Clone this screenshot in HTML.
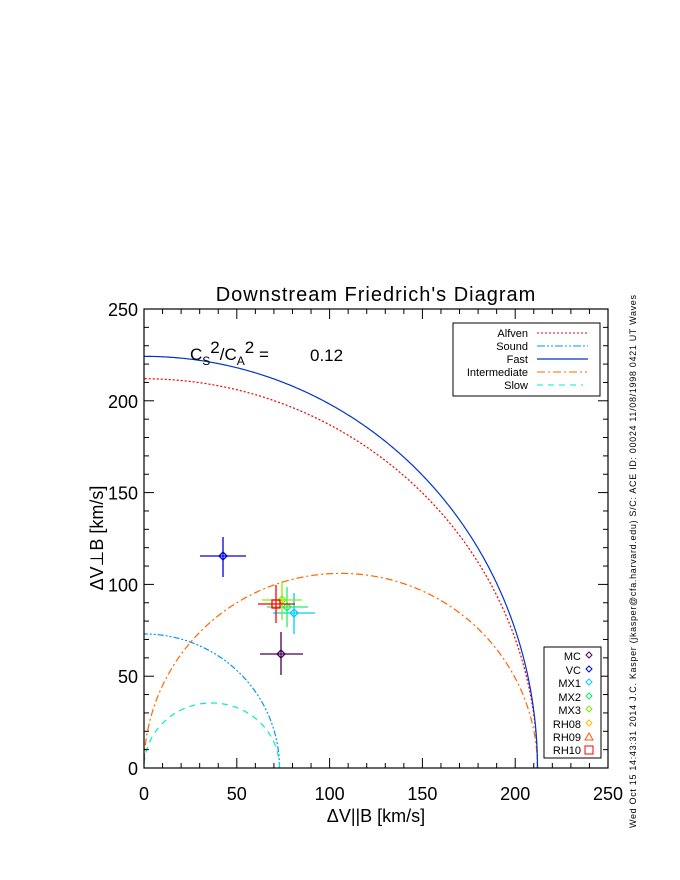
<!DOCTYPE html>
<html><head><meta charset="utf-8"><style>
html,body{margin:0;padding:0;background:#fff;}
svg{display:block;font-family:"Liberation Sans","DejaVu Sans",sans-serif;}
</style></head><body>
<svg id="s" width="680" height="880" viewBox="0 0 680 880" xmlns="http://www.w3.org/2000/svg">
<rect width="680" height="880" fill="#fff"/>
<text x="376" y="301" font-size="20" text-anchor="middle" letter-spacing="1">Downstream Friedrich's Diagram</text>
<g id="curves" fill="none" stroke-width="1.2"></g>
<rect x="144" y="309" width="464" height="459" fill="none" stroke="#000" stroke-width="1.2"/>
<g id="ticks" stroke="#000" stroke-width="1"></g>
<g id="labels" font-size="18"></g>
<text x="190" y="360" font-size="17">C<tspan font-size="12" dy="5">S</tspan><tspan dy="-12">2</tspan><tspan dy="7">/C</tspan><tspan font-size="12" dy="5">A</tspan><tspan dy="-12">2</tspan><tspan dy="7"> = </tspan></text>
<text x="310" y="361" font-size="17">0.12</text>
<text x="376" y="822" font-size="18" text-anchor="middle">ΔV||B [km/s]</text>
<text transform="translate(103,538) rotate(-90)" font-size="18" text-anchor="middle">ΔV⊥B [km/s]</text>
<text transform="translate(636,828) rotate(-90)" font-size="9" textLength="533" lengthAdjust="spacing">Wed Oct 15 14:43:31 2014   J.C. Kasper (jkasper@cfa.harvard.edu)   S/C: ACE ID: 00024 11/08/1998   0421 UT Waves</text>
<rect x="453" y="323" width="147" height="73" fill="#fff" stroke="#000"/>
<g font-size="11" text-anchor="end">
<text x="528" y="337">Alfven</text><text x="528" y="350">Sound</text><text x="528" y="363">Fast</text><text x="528" y="376">Intermediate</text><text x="528" y="389">Slow</text>
</g>
<line x1="537" y1="333" x2="587" y2="333" stroke="#e00" stroke-dasharray="2,2"/>
<line x1="537" y1="346" x2="588" y2="346" stroke="#09e" stroke-dasharray="8,2,2,2,2,2"/>
<line x1="537" y1="359" x2="588" y2="359" stroke="#03c" stroke-width="1.3"/>
<line x1="537" y1="372" x2="587" y2="372" stroke="#f60" stroke-dasharray="8,3,2,3"/>
<line x1="537" y1="385" x2="583" y2="385" stroke="#0ec" stroke-dasharray="6,5"/>
<rect x="544" y="647" width="57" height="111" fill="#fff" stroke="#000"/>
<g font-size="11" text-anchor="end">
<text x="581" y="660">MC</text><text x="581" y="674">VC</text><text x="581" y="687">MX1</text><text x="581" y="701">MX2</text><text x="581" y="714">MX3</text><text x="581" y="728">RH08</text><text x="581" y="741">RH09</text><text x="581" y="754">RH10</text>
</g>
<g fill="none" stroke-width="1">
<path d="M589 652l3 3-3 3-3-3z" stroke="#505"/>
<path d="M589 666l3 3-3 3-3-3z" stroke="#00d"/>
<path d="M589 679l3 3-3 3-3-3z" stroke="#0cf"/>
<path d="M589 693l3 3-3 3-3-3z" stroke="#0e6"/>
<path d="M589 706l3 3-3 3-3-3z" stroke="#7e0"/>
<path d="M589 720l3 3-3 3-3-3z" stroke="#fb0"/>
<path d="M589 733l4 7h-8z" stroke="#f50"/>
<rect x="585" y="746" width="8" height="8" stroke="#f00"/>
</g>
<g id="pts" fill="none" stroke-width="1.3"></g>
</svg>
<script>
var X=v=>144+v*464/250, Y=v=>768-v*459/250;
var ns="http://www.w3.org/2000/svg";
function el(p,t,a){var e=document.createElementNS(ns,t);for(var k in a)e.setAttribute(k,a[k]);document.getElementById(p).appendChild(e);return e;}
var a=212,c=73,a2=a*a,c2=c*c;
function path(f,col,dash){var d="";for(var i=0;i<=400;i++){var th=Math.PI/2*i/400,v=f(th);d+=(i?"L":"M")+X(v*Math.cos(th)).toFixed(2)+" "+Y(v*Math.sin(th)).toFixed(2);}el("curves","path",{d:d,stroke:col,"stroke-dasharray":dash});}
function fast(t){var s=a2+c2,q=Math.sqrt(s*s-4*a2*c2*Math.cos(t)**2);return Math.sqrt((s+q)/2);}
function slow(t){var s=a2+c2,q=Math.sqrt(s*s-4*a2*c2*Math.cos(t)**2);return Math.sqrt(Math.max(0,(s-q)/2));}
path(t=>c,"#09e","6,2,2,2,2,2");
path(slow,"#0ec","6,5");
path(t=>a*Math.cos(t),"#f60","7,3,2,3");
path(t=>a,"#e00","2,2");
path(fast,"#03c","");
for(var v=0;v<=250;v+=10){var maj=v%50==0,L=maj?10:5;
el("ticks","line",{x1:X(v),x2:X(v),y1:768,y2:768-L});el("ticks","line",{x1:X(v),x2:X(v),y1:309,y2:309+L});
el("ticks","line",{x1:144,x2:144+L,y1:Y(v),y2:Y(v)});el("ticks","line",{x1:608,x2:608-L,y1:Y(v),y2:Y(v)});
if(maj){var t=el("labels","text",{x:X(v),y:800,"text-anchor":"middle"});t.textContent=v;
var u=el("labels","text",{x:138,y:Y(v)+7,"text-anchor":"end"});u.textContent=v;}}
var P=[[294,613,273,315,593,634,"#0cf","d"],[287,607,267,308,587,627,"#2e6","d"],[282,600,262,302,581,620,"#8e0","d"],[276,604,258,295,585,623,"#f00","s"],[223,556,200,246,537,577,"#00d","d"],[281,654,260,303,632,675,"#405","d"]];
P.forEach(p=>{el("pts","line",{x1:p[2],x2:p[3],y1:p[1],y2:p[1],stroke:p[6]});el("pts","line",{x1:p[0],x2:p[0],y1:p[4],y2:p[5],stroke:p[6]});
if(p[7]=="s")el("pts","rect",{x:p[0]-4,y:p[1]-4,width:8,height:8,stroke:p[6]});else el("pts","path",{d:"M"+p[0]+" "+(p[1]-4)+"l4 4-4 4-4-4z",stroke:p[6]});});
</script>
</body></html>
